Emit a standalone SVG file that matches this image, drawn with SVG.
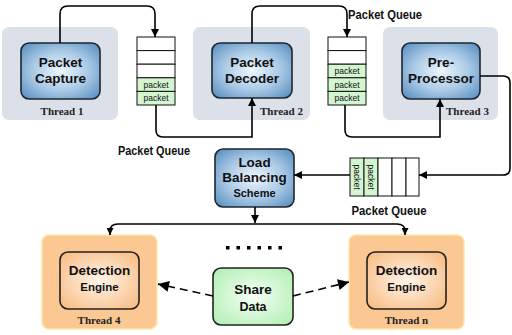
<svg xmlns="http://www.w3.org/2000/svg" width="512" height="335" viewBox="0 0 512 335">
<defs>
<radialGradient id="gBlue" cx="50%" cy="50%" r="65%">
<stop offset="0" stop-color="#eef6fc"/>
<stop offset="0.55" stop-color="#a9c9e6"/>
<stop offset="1" stop-color="#5f93c2"/>
</radialGradient>
<radialGradient id="gOrange" cx="50%" cy="50%" r="65%">
<stop offset="0" stop-color="#fff5ea"/>
<stop offset="1" stop-color="#f8bd85"/>
</radialGradient>
<radialGradient id="gGreen" cx="50%" cy="50%" r="65%">
<stop offset="0" stop-color="#f6fff6"/>
<stop offset="1" stop-color="#b3efb5"/>
</radialGradient>
<marker id="ah" viewBox="0 0 10 10" refX="10" refY="5" markerWidth="8" markerHeight="9" markerUnits="userSpaceOnUse" orient="auto">
<path d="M0,0 L10,5 L0,10 z" fill="#000"/>
</marker>
<marker id="ahs" viewBox="0 0 10 10" refX="10" refY="5" markerWidth="7" markerHeight="7" markerUnits="userSpaceOnUse" orient="auto">
<path d="M0,0 L10,5 L0,10 z" fill="#000"/>
</marker>
<marker id="ahd" viewBox="0 0 10 10" refX="10" refY="5" markerWidth="14" markerHeight="11" markerUnits="userSpaceOnUse" orient="auto">
<path d="M0,0 L10,5 L0,10 z" fill="#000"/>
</marker>
</defs>
<style>
.tbg{fill:#dce0e8;}
.obg{fill:#fbc893;stroke:#fde7a8;stroke-width:1.5;}
.blue{fill:url(#gBlue);stroke:#1d2631;stroke-width:1.6;}
.orng{fill:url(#gOrange);stroke:#222;stroke-width:1.6;}
.grn{fill:url(#gGreen);stroke:#222;stroke-width:1.6;}
.cell{fill:#fff;stroke:#111;stroke-width:1;}
.pcell{fill:#d3f5cf;stroke:#111;stroke-width:1;}
.lbl{font-family:"Liberation Sans",Arial,sans-serif;font-weight:bold;fill:#111;text-anchor:middle;}
.thr{font-family:"Liberation Serif","Times New Roman",serif;font-weight:bold;font-size:11px;fill:#222;}
.pq{font-family:"Liberation Sans",Arial,sans-serif;font-weight:bold;font-size:12.5px;fill:#111;text-anchor:middle;}
.pk{font-family:"Liberation Sans",Arial,sans-serif;font-size:8.5px;fill:#111;text-anchor:middle;}
.ln{fill:none;stroke:#000;stroke-width:1.6;}
.dash{fill:none;stroke:#000;stroke-width:1.6;stroke-dasharray:8 5;}
</style>

<g id="thread1">
<rect class="tbg" x="2" y="27" width="116" height="93" rx="7"/>
<rect class="blue" x="21" y="43" width="79" height="56" rx="8"/>
<text class="lbl" font-size="13.5" x="60.5" y="67">Packet</text>
<text class="lbl" font-size="13.5" x="60.5" y="83">Capture</text>
<text class="thr" x="62" y="115" text-anchor="middle">Thread 1</text>
</g>

<g id="thread2">
<rect class="tbg" x="193" y="27" width="117" height="93" rx="7"/>
<rect class="blue" x="212" y="43" width="80" height="55" rx="8"/>
<text class="lbl" font-size="13.5" x="252" y="67">Packet</text>
<text class="lbl" font-size="13.5" x="252" y="83">Decoder</text>
<text class="thr" x="260" y="115">Thread 2</text>
</g>

<g id="thread3">
<rect class="tbg" x="383" y="27" width="115" height="93" rx="7"/>
<rect class="blue" x="402" y="43" width="78" height="56" rx="8"/>
<text class="lbl" font-size="13.5" x="441" y="67">Pre-</text>
<text class="lbl" font-size="13.5" x="441" y="83">Processor</text>
<text class="thr" x="446" y="115">Thread 3</text>
</g>

<g id="queue1">
<rect class="cell" x="137" y="37" width="38" height="13.6"/>
<rect class="cell" x="137" y="50.6" width="38" height="13.6"/>
<rect class="cell" x="137" y="64.2" width="38" height="13.6"/>
<rect class="pcell" x="137" y="77.8" width="38" height="13.6"/>
<rect class="pcell" x="137" y="91.4" width="38" height="13.6"/>
<text class="pk" x="156" y="87.7">packet</text>
<text class="pk" x="156" y="101.3">packet</text>
<text class="pq" x="154" y="155" textLength="72" lengthAdjust="spacingAndGlyphs">Packet Queue</text>
</g>

<g id="queue2">
<rect class="cell" x="328" y="37" width="38" height="13.6"/>
<rect class="cell" x="328" y="50.6" width="38" height="13.6"/>
<rect class="pcell" x="328" y="64.2" width="38" height="13.6"/>
<rect class="pcell" x="328" y="77.8" width="38" height="13.6"/>
<rect class="pcell" x="328" y="91.4" width="38" height="13.6"/>
<text class="pk" x="347" y="74.1">packet</text>
<text class="pk" x="347" y="87.7">packet</text>
<text class="pk" x="347" y="101.3">packet</text>
<text class="pq" x="385" y="19" textLength="74" lengthAdjust="spacingAndGlyphs">Packet Queue</text>
</g>

<g id="queue3">
<rect class="pcell" x="350" y="158" width="14" height="38"/>
<rect class="pcell" x="364" y="158" width="14" height="38"/>
<rect class="cell" x="378" y="158" width="14" height="38"/>
<rect class="cell" x="392" y="158" width="14" height="38"/>
<rect class="cell" x="406" y="158" width="13" height="38"/>
<text class="pk" transform="translate(354.2,177) rotate(90)">packet</text>
<text class="pk" transform="translate(368.2,177) rotate(90)">packet</text>
<text class="pq" x="389" y="215" textLength="75" lengthAdjust="spacingAndGlyphs">Packet Queue</text>
</g>

<g id="loadbalancing">
<rect class="blue" x="215" y="149" width="79" height="58" rx="8"/>
<text class="lbl" font-size="13.5" x="254.5" y="167">Load</text>
<text class="lbl" font-size="13.5" x="254.5" y="182">Balancing</text>
<text class="lbl" font-size="11" x="254.5" y="197">Scheme</text>
</g>

<g id="thread4">
<rect class="obg" x="42" y="235" width="115" height="94" rx="7"/>
<rect class="orng" x="60" y="252" width="79" height="57" rx="8"/>
<text class="lbl" font-size="13.5" x="99.5" y="275">Detection</text>
<text class="lbl" font-size="11.5" x="99.5" y="291">Engine</text>
<text class="thr" x="99" y="324" text-anchor="middle">Thread 4</text>
</g>

<g id="threadn">
<rect class="obg" x="349" y="235" width="115" height="94" rx="7"/>
<rect class="orng" x="367" y="252" width="79" height="57" rx="8"/>
<text class="lbl" font-size="13.5" x="406.5" y="275">Detection</text>
<text class="lbl" font-size="11.5" x="406.5" y="291">Engine</text>
<text class="thr" x="406.5" y="324" text-anchor="middle">Thread n</text>
</g>

<g id="sharedata">
<rect class="grn" x="213" y="268" width="80" height="57" rx="8"/>
<text class="lbl" font-size="13.5" x="253" y="294">Share</text>
<text class="lbl" font-size="12.5" x="253" y="311">Data</text>
</g>

<g id="dots" fill="#000">
<rect x="226" y="246" width="3.5" height="3.5"/>
<rect x="236.5" y="246" width="3.5" height="3.5"/>
<rect x="247" y="246" width="3.5" height="3.5"/>
<rect x="257.5" y="246" width="3.5" height="3.5"/>
<rect x="268" y="246" width="3.5" height="3.5"/>
<rect x="278.5" y="246" width="3.5" height="3.5"/>
</g>

<g id="connectors">
<path class="ln" d="M60,43 V14 Q60,6 68,6 H147 Q155,6 155,14 V37" marker-end="url(#ah)"/>
<path class="ln" d="M156,105 V130 Q156,137 163,137 H252 V98" marker-end="url(#ah)"/>
<path class="ln" d="M252,43 V14 Q252,6 260,6 H339 Q347,6 347,14 V37" marker-end="url(#ah)"/>
<path class="ln" d="M345,105 V130 Q345,137 352,137 H440 V99" marker-end="url(#ah)"/>
<path class="ln" d="M480,76 H503 Q510,76 510,83 V168 Q510,175 503,175 H419" marker-end="url(#ah)"/>
<path class="ln" d="M350,175 H294" marker-end="url(#ah)"/>
<path class="ln" d="M255,207 V223" marker-end="url(#ah)"/>
<path class="ln" d="M255,224 H118 Q110,224 110,231 V235" marker-end="url(#ahs)"/>
<path class="ln" d="M255,224 H397 Q405,224 405,231 V235" marker-end="url(#ahs)"/>
<path class="dash" d="M213,296 L158,284" marker-end="url(#ahd)"/>
<path class="dash" d="M293,296 L349,282" marker-end="url(#ahd)"/>
</g>
</svg>
